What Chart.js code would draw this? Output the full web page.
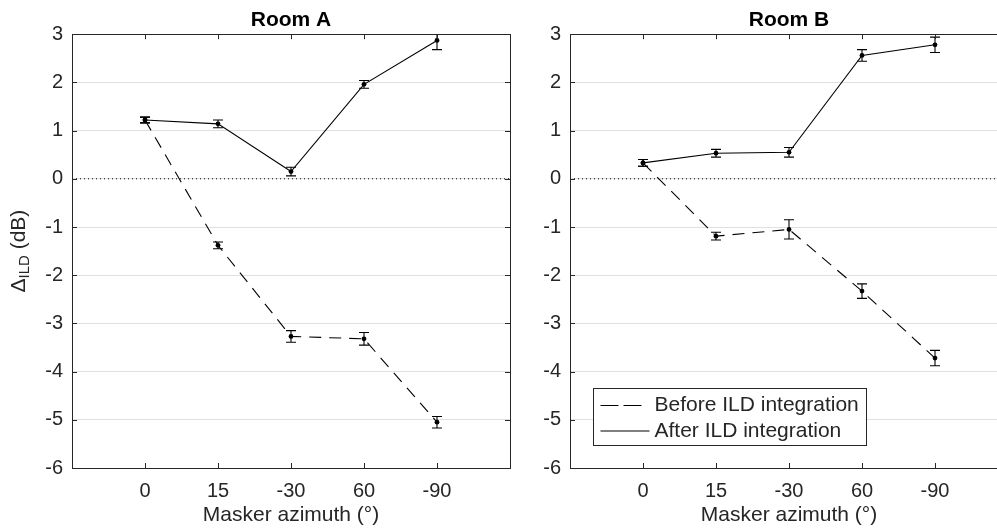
<!DOCTYPE html>
<html lang="en">
<head>
<meta charset="UTF-8">
<title>ILD change by masker azimuth</title>
<script src="https://cdn.jsdelivr.net/npm/chart.js"></script>
<style>
    html, body {
        margin: 0;
        background: #fff;
        overflow: hidden;
    }
    body {
        position: relative;
        width: 997px;
        height: 528px;
    }
    .panel {
        position: absolute;
        top: 0;
    }
    #room_a_box { left: 0; }
    #room_b_box { left: 498px; }
</style>
</head>
<body>
<div class="panel" id="room_a_box"><canvas id="room_a" width="530" height="528"></canvas></div>
<div class="panel" id="room_b_box"><canvas id="room_b" width="530" height="528"></canvas></div>

<script>
const categories = ['0', '15', '-30', '60', '-90'];

const roomABefore = [1.22, -1.38, -3.27, -3.32, -5.05];
const roomABeforeErr = [0.06, 0.07, 0.12, 0.13, 0.12];
const roomAAfter = [1.22, 1.14, 0.15, 1.96, 2.87];
const roomAAfterErr = [0.06, 0.08, 0.09, 0.08, 0.19];

const roomBBefore = [0.33, -1.19, -1.05, -2.33, -3.72];
const roomBBeforeErr = [0.07, 0.08, 0.2, 0.15, 0.16];
const roomBAfter = [0.33, 0.53, 0.55, 2.56, 2.78];
const roomBAfterErr = [0.07, 0.08, 0.1, 0.12, 0.16];

const yMin = -6;
const yMax = 3;

const ink = '#262626';
const family = '"Liberation Sans", Arial, Helvetica, sans-serif';

Chart.defaults.font.family = family;
Chart.defaults.color = ink;

function points(values) {
    return values.map((v, i) => ({ x: i, y: v }));
}

// box, inward ticks, error bars, y label and legend (MATLAB look)
const decorations = {
    id: 'decorations',
    afterDatasetsDraw(chart) {
        const { ctx, chartArea, scales: { x, y } } = chart;
        ctx.save();
        ctx.beginPath();
        ctx.rect(chartArea.left, chartArea.top, chartArea.width, chartArea.height);
        ctx.clip();
        ctx.strokeStyle = '#000';
        ctx.lineWidth = 1.1;
        chart.data.datasets.forEach(ds => {
            if (!ds.errors) return;
            ds.data.forEach((p, i) => {
                const px = x.getPixelForValue(p.x);
                const hi = y.getPixelForValue(p.y + ds.errors[i]);
                const lo = y.getPixelForValue(p.y - ds.errors[i]);
                ctx.beginPath();
                ctx.moveTo(px, hi); ctx.lineTo(px, lo);
                ctx.moveTo(px - 5, hi); ctx.lineTo(px + 5, hi);
                ctx.moveTo(px - 5, lo); ctx.lineTo(px + 5, lo);
                ctx.stroke();
            });
        });
        ctx.restore();
    },
    afterDraw(chart, args, opts) {
        const { ctx, chartArea: a, scales: { x, y } } = chart;
        ctx.save();
        ctx.strokeStyle = ink;
        ctx.lineWidth = 1;
        ctx.beginPath();
        x.ticks.forEach(t => {
            if (t.value < 0 || t.value >= categories.length) return;
            const px = Math.round(x.getPixelForValue(t.value)) + 0.5;
            ctx.moveTo(px, a.bottom); ctx.lineTo(px, a.bottom - 5);
            ctx.moveTo(px, a.top); ctx.lineTo(px, a.top + 5);
        });
        y.ticks.forEach(t => {
            const py = Math.round(y.getPixelForValue(t.value)) + 0.5;
            ctx.moveTo(a.left, py); ctx.lineTo(a.left + 5, py);
            ctx.moveTo(a.right, py); ctx.lineTo(a.right - 5, py);
        });
        ctx.stroke();
        ctx.strokeRect(Math.round(a.left) + 0.5, Math.round(a.top) + 0.5,
            Math.round(a.width), Math.round(a.height));

        if (opts.yLabel) {
            const big = '21px ' + family;
            const small = '15px ' + family;
            ctx.fillStyle = ink;
            ctx.textBaseline = 'middle';
            ctx.textAlign = 'left';
            ctx.font = big;
            const w1 = ctx.measureText('Δ').width;
            const w3 = ctx.measureText(' (dB)').width;
            ctx.font = small;
            const w2 = ctx.measureText('ILD').width;
            ctx.translate(19, (a.top + a.bottom) / 2);
            ctx.rotate(-Math.PI / 2);
            let sx = -(w1 + w2 + w3) / 2;
            ctx.font = big;
            ctx.fillText('Δ', sx, 0);
            sx += w1;
            ctx.font = small;
            ctx.fillText('ILD', sx, 6);
            sx += w2;
            ctx.font = big;
            ctx.fillText(' (dB)', sx, 0);
            ctx.setTransform(1, 0, 0, 1, 0, 0);
        }

        if (opts.legend) {
            const rows = chart.data.datasets.filter(d => d.label);
            ctx.font = '21px ' + family;
            const textW = Math.max(...rows.map(d => ctx.measureText(d.label).width));
            const left = Math.round(a.left + 23) + 0.5;
            const height = 57;
            const top = Math.round(a.bottom - 23 - height) + 0.5;
            const width = Math.round(61 + textW + 8);
            ctx.fillStyle = '#fff';
            ctx.fillRect(left, top, width, height);
            ctx.strokeStyle = ink;
            ctx.strokeRect(left, top, width, height);
            rows.forEach((d, i) => {
                const ry = top + 17 + i * 25.5;
                ctx.strokeStyle = '#000';
                ctx.lineWidth = 1.1;
                ctx.setLineDash(d.borderDash ? [18, 5] : []);
                ctx.beginPath();
                ctx.moveTo(left + 7, ry);
                ctx.lineTo(left + (d.borderDash ? 48 : 56), ry);
                ctx.stroke();
                ctx.setLineDash([]);
                ctx.fillStyle = ink;
                ctx.textBaseline = 'middle';
                ctx.textAlign = 'left';
                ctx.fillText(d.label, left + 61, ry);
            });
        }
        ctx.restore();
    }
};

function makePanel(canvasId, title, before, beforeErr, after, afterErr, extras) {
    return new Chart(canvasId, {
        type: 'line',
        data: {
            datasets: [
                {
                    label: 'Before ILD integration',
                    data: points(before),
                    errors: beforeErr,
                    borderColor: '#000',
                    borderWidth: 1.1,
                    borderDash: [12, 8],
                    pointRadius: 2.4,
                    pointBorderWidth: 0,
                    pointBackgroundColor: '#000',
                    tension: 0
                },
                {
                    label: 'After ILD integration',
                    data: points(after),
                    errors: afterErr,
                    borderColor: '#000',
                    borderWidth: 1.1,
                    pointRadius: 2.4,
                    pointBorderWidth: 0,
                    pointBackgroundColor: '#000',
                    tension: 0
                },
                {
                    data: [{ x: -1, y: 0 }, { x: categories.length, y: 0 }],
                    borderColor: '#000',
                    borderWidth: 1,
                    borderDash: [1, 3],
                    pointRadius: 0
                }
            ]
        },
        options: {
            responsive: false,
            animation: false,
            events: [],
            layout: { padding: { left: 0, right: 20, top: 0, bottom: 0 } },
            plugins: {
                legend: { display: false },
                tooltip: { enabled: false },
                title: {
                    display: true,
                    text: title,
                    fullSize: false,
                    color: '#000',
                    font: { size: 21, weight: 'bold' },
                    padding: { top: 8, bottom: 1 }
                },
                decorations: extras
            },
            scales: {
                x: {
                    type: 'linear',
                    min: -1,
                    max: categories.length,
                    afterFit: s => { s.height = 60; },
                    grid: { display: false, drawTicks: false },
                    border: { display: false },
                    ticks: {
                        stepSize: 1,
                        autoSkip: false,
                        maxRotation: 0,
                        padding: 11,
                        font: { size: 20 },
                        callback: v => categories[v] ?? ''
                    },
                    title: {
                        display: true,
                        text: 'Masker azimuth (°)',
                        font: { size: 21 },
                        padding: { top: 0, bottom: 0 }
                    }
                },
                y: {
                    min: yMin,
                    max: yMax,
                    afterFit: s => { s.width = 72; },
                    grid: { color: '#e0e0e0', drawTicks: false },
                    border: { display: false },
                    ticks: {
                        stepSize: 1,
                        padding: 9,
                        font: { size: 20 }
                    }
                }
            }
        },
        plugins: [decorations]
    });
}

makePanel('room_a', 'Room A', roomABefore, roomABeforeErr, roomAAfter, roomAAfterErr, { yLabel: true });
makePanel('room_b', 'Room B', roomBBefore, roomBBeforeErr, roomBAfter, roomBAfterErr, { legend: true });
</script>
</body>
</html>
